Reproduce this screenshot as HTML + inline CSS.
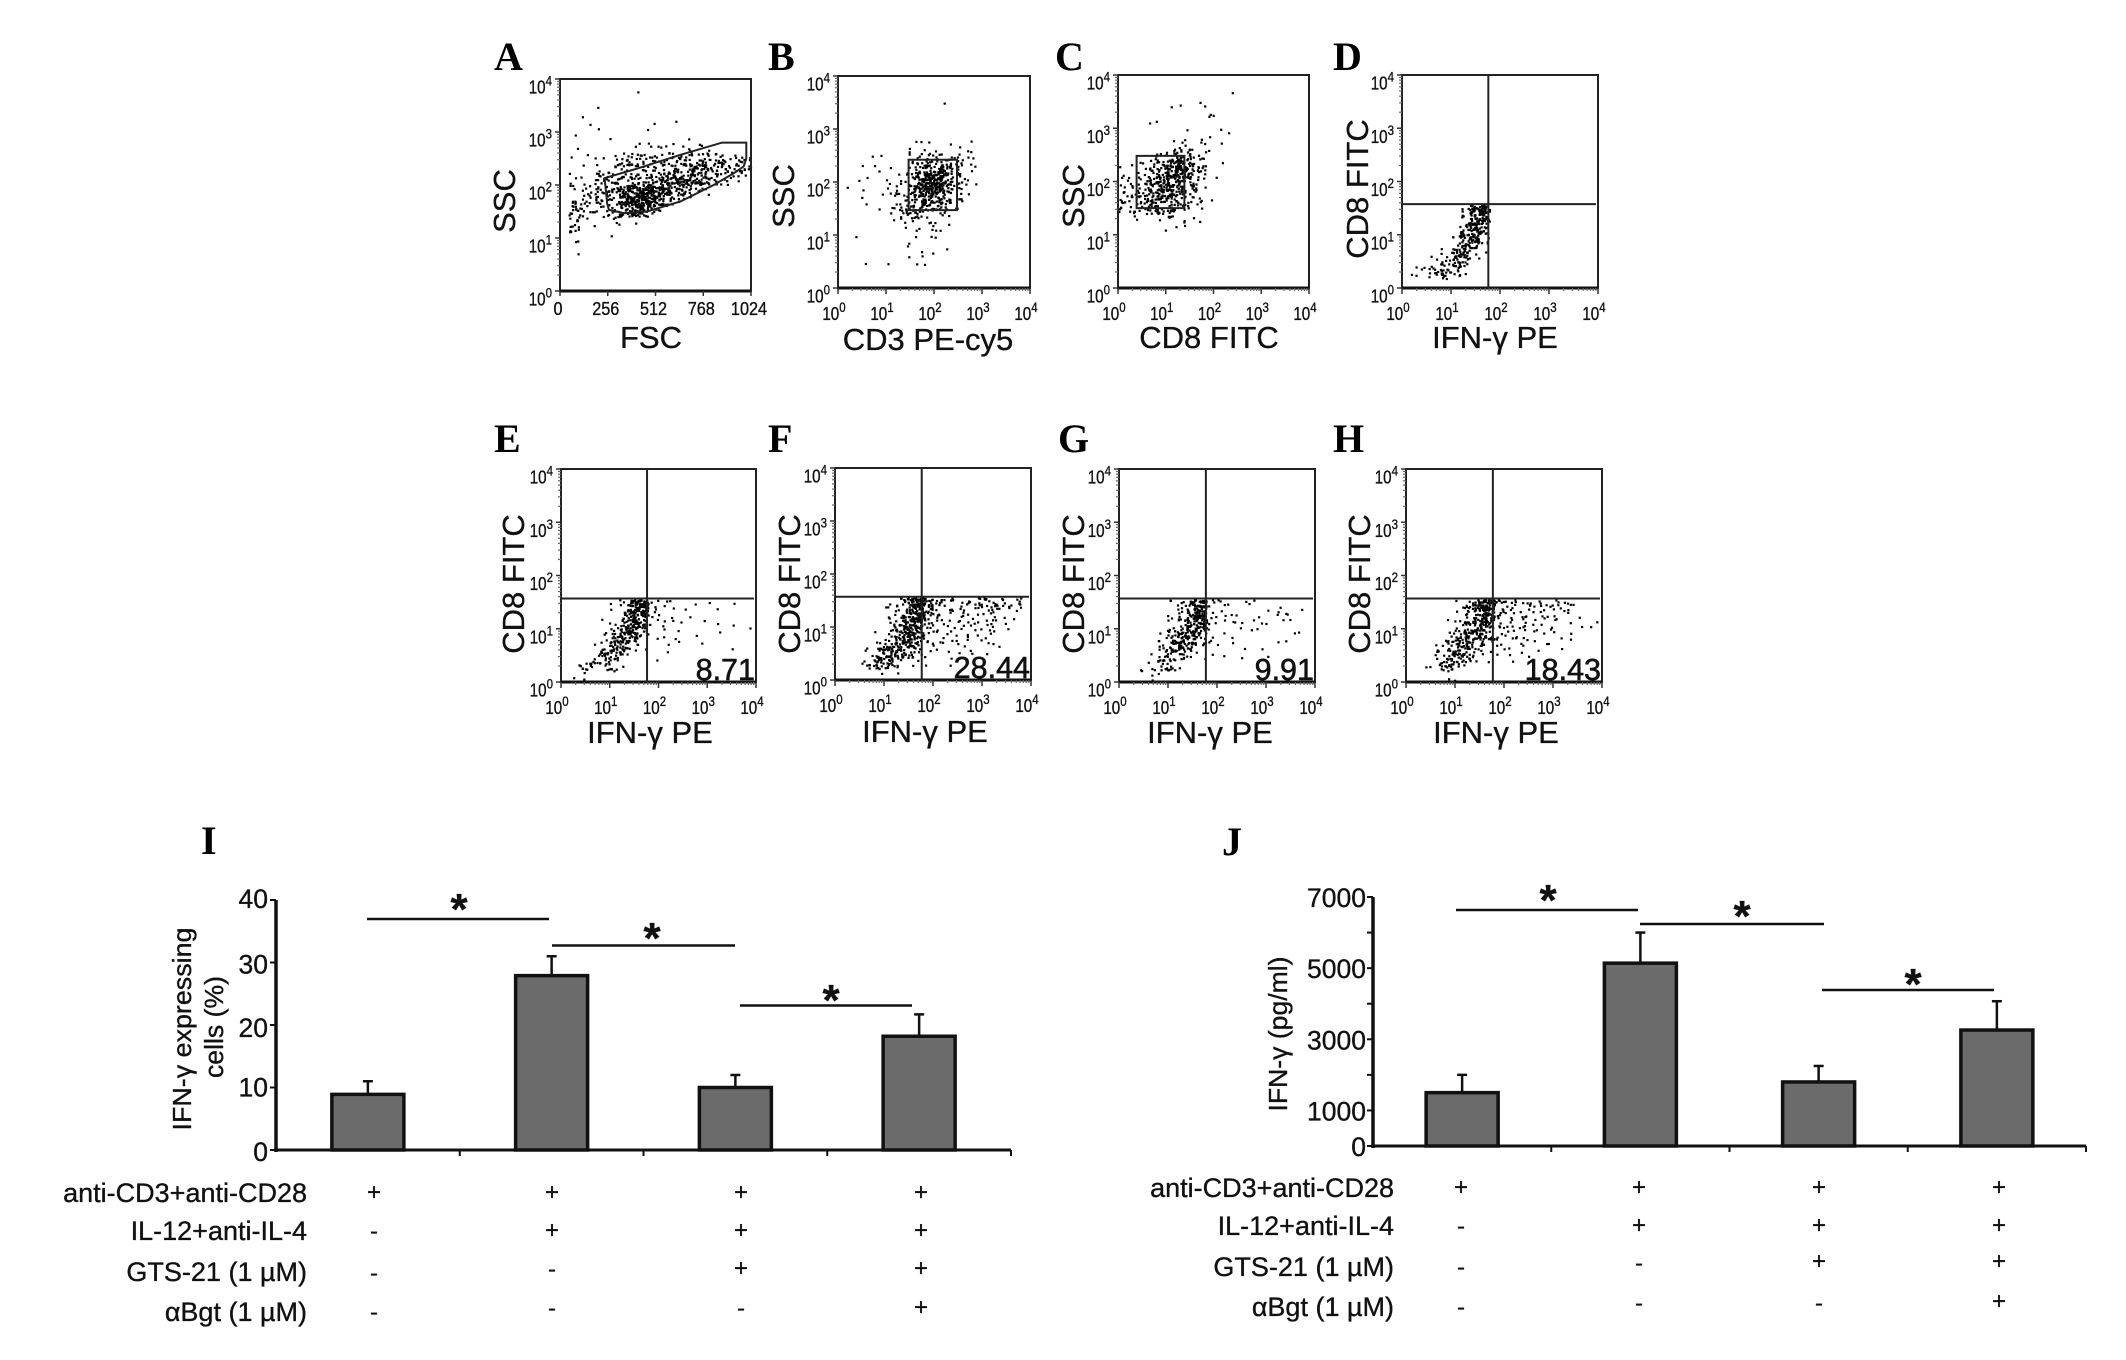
<!DOCTYPE html>
<html lang="en">
<head>
<meta charset="utf-8">
<title>Flow cytometry panels and IFN-γ bar charts</title>
<style>
  html, body { margin: 0; padding: 0; background: #fff; }
  #figure { display: block; width: 2126px; height: 1360px; background: #fff; }
  text { font-family: "Liberation Sans", sans-serif; fill: #111; stroke: #111; stroke-width: .35px; }
  .letter { font-family: "Liberation Serif", serif; font-weight: bold; font-size: 40px; fill: #000; stroke: none; }
  .percent { stroke-width: .6px; }
</style>
</head>
<body>
<svg id="figure" xmlns="http://www.w3.org/2000/svg" width="2126" height="1360" viewBox="0 0 2126 1360"></svg>
<script>
/* ---------- Scatter data: estimated event counts per 0.2-decade bin, read by eye.
   Rows run from the highest y bin to the lowest; columns run left to right.
   Dots are jittered inside their bin purely for rendering. ---------- */
const logTickExponents = [0, 1, 2, 3, 4];
const fscTickLabels = [0, 256, 512, 768, 1024];

const topBinA = 3.6;
const countsA = [
  [0,0,0,0,0,0,0,0,1],
  [0,0,0,0,1],
  [0,0,1],
  [0,0,0,1,1,0,0,0,0,2,0,0,1],
  [0,1,0,0,0,1,0,0,0,0,0,0,0,1],
  [0,1,0,0,0,0,0,1,1,2,2,2,1,2,2,1],
  [0,1,1,1,1,2,3,6,7,6,5,6,6,7,7,7,8,5,4,5],
  [0,1,1,2,2,4,7,8,6,6,8,8,12,16,16,14,10,8,8,8],
  [0,2,2,3,7,8,7,8,10,10,14,18,22,24,18,12,8,4,3,1],
  [0,3,3,6,8,8,16,26,30,34,30,22,16,8,4,2],
  [0,6,6,8,4,7,22,36,40,38,22,10,3,1],
  [0,10,5,4,3,6,14,20,22,12,3],
  [0,8,2,1,1,3,2,1],
  [0,5,0,0,0,1],
  [0,2],
  [0,1]
];
const gateAX = [239,253,262,343,467,646,824,931,985,999,999,869,646,414];
const gateAY = [2.13,1.65,1.53,1.47,1.50,1.69,2.00,2.22,2.35,2.50,2.80,2.80,2.57,2.31];

const topBinB = 3.4;
const countsB = [
  [0,0,0,0,0,0,0,0,0,0,0,1],
  [],[],[],
  [0,0,0,0,0,0,0,1,2,1,0,1,1,1],
  [0,0,0,1,1,0,0,2,3,5,5,4,4,3,1],
  [0,0,1,1,0,1,0,3,8,14,14,10,6,2,1],
  [0,0,1,1,1,1,2,6,18,32,34,14,5,2],
  [0,1,1,0,0,2,3,8,22,36,36,14,6,1,1],
  [0,0,1,0,1,2,4,10,18,24,18,10,5,1],
  [0,0,1,0,1,3,6,12,14,10,8,5,2],
  [0,0,0,0,0,1,2,5,4,3,2,1],
  [0,0,0,0,0,0,0,1,2,2,2,1],
  [0,1,0,0,0,0,0,1,1,1,1],
  [0,0,0,0,0,0,0,1,1,1,0,1],
  [0,0,1,0,0,1,0,1,2,1]
];
const gateBX = [1.47,2.48,2.48,1.47];
const gateBY = [2.42,2.42,1.47,1.47];

const topBinC = 3.6;
const countsC = [
  [0,0,0,0,0,0,0,0,0,0,0,0,1],
  [0,0,0,0,0,0,1,0,1,1],
  [0,0,0,0,0,1,0,0,0,2,1],
  [0,0,0,1,1],
  [0,0,0,0,0,0,0,1,0,1,1,1],
  [0,0,0,0,0,1,2,2,2,1,1],
  [0,0,0,1,3,6,12,10,4,2],
  [1,1,3,6,12,20,32,14,5,2,1],
  [2,2,4,8,16,26,34,14,5,2,1],
  [3,3,6,12,22,24,18,10,4,1],
  [6,6,8,16,22,18,10,6,3,1],
  [5,5,6,10,12,12,6,4,2],
  [0,1,1,2,3,4,2,1,1],
  [0,0,0,0,0,1,1,1]
];
const gateCX = [0.39,1.39,1.39,0.39];
const gateCY = [2.48,2.48,1.50,1.50];

const topBinQuadrant = 1.4;
const countsD = [
  [0,0,0,0,0,0,4,24,30],
  [0,0,0,0,0,0,5,28,22],
  [0,0,0,0,0,1,14,28,12],
  [0,0,0,0,0,4,20,22,4],
  [0,0,0,0,2,12,20,8,1],
  [0,0,0,2,8,18,10,1],
  [0,3,5,8,12,8,1],
  [0,0,0,0,2]
];
const countsE = [
  [0,0,0,0,0,1,4,24,32,3,2,1,0,1,0,1,0,1],
  [0,0,0,0,0,1,8,30,28,3,1,2,1,1,0,0,1],
  [0,0,0,0,1,3,14,28,18,2,2,1,1,0,1,0,1,1,0,1],
  [0,0,0,0,2,8,20,22,6,1,2,1,1,1,0,0,1],
  [0,0,0,1,4,16,18,6,1,0,0,1,1,0,1,0,0,1],
  [0,0,0,2,14,14,6,1,0,1,1],
  [0,1,6,8,8,4,1],
  [0,1,2]
];
const countsF = [
  [0,0,0,0,0,1,4,18,40,18,7,4,2,4,6,5,4,4,4,1],
  [0,0,0,0,0,2,5,14,34,14,5,4,3,4,4,5,5,3,2],
  [0,0,0,0,0,3,8,26,34,8,4,3,3,3,3,3,4,2,1],
  [0,0,0,0,1,4,12,30,22,5,3,2,3,2,3,2,1,1],
  [0,0,0,0,3,8,18,22,12,4,2,3,2,2,1,2,2],
  [0,0,0,3,12,24,18,10,5,2,1,2,1,1,1,1],
  [0,0,1,6,16,14,4,1,1,1,0,1],
  [0,0,0,0,1,0,1]
];
const countsG = [
  [0,0,0,0,0,2,4,14,30,3,3,1,1,2],
  [0,0,0,0,0,1,5,22,34,3,2,1,1,0,1,1,3,2,1],
  [0,0,0,0,0,3,10,26,24,3,1,2,2,1,1,1,1,1],
  [0,0,0,0,2,8,20,28,10,2,1,1,0,1,1,0,0,1,1],
  [0,0,0,0,6,12,20,14,3,2,1,1,1,0,1,0,1,1],
  [0,0,0,1,10,14,8,3,1,1,1,0,1,0,0,1],
  [0,0,2,3,10,7,1],
  [0,0,0,2,1]
];
const countsH = [
  [0,0,0,0,0,1,6,20,30,8,4,4,4,4,3,3,3,1],
  [0,0,0,0,0,2,8,20,34,7,4,3,3,3,2,3,3,1],
  [0,0,0,0,1,4,12,22,24,5,4,3,3,2,2,2,1,1,1,1],
  [0,0,0,0,3,10,20,22,10,3,3,3,2,2,2,2,1],
  [0,0,0,2,8,14,18,10,3,3,2,2,1,1,2,1,1],
  [0,0,0,6,14,16,8,2,1,1,1,1,1,1],
  [0,0,2,7,14,6,2,1,1,0,1],
  [0,0,0,0,1,1]
];
const quadrantGateX = [1.762, 1.765, 1.77, 1.773, 1.773];
const quadrantGateY = [1.574, 1.567, 1.57, 1.567, 1.567];
const percentLabels = ["", "8.71", "28.44", "9.91", "18.43"];

/* ---------- Bar chart data ---------- */
const treatmentLabels = ["anti-CD3+anti-CD28", "IL-12+anti-IL-4", "GTS-21 (1 µM)", "αBgt (1 µM)"];
const treatmentSigns = [
  ["+","+","+","+"],
  ["-","+","+","+"],
  ["-","-","+","+"],
  ["-","-","-","+"]
];
const expressingValues = [8.9, 27.9, 10, 18.2];
const expressingErrors = [2.1, 3.1, 2, 3.5];
const expressingTicks = [0, 10, 20, 30, 40];
const expressingTickText = ["0", "10", "20", "30", "40"];
const pgValues = [1500, 5140, 1800, 3260];
const pgErrors = [500, 860, 450, 810];
const pgTicks = [0, 1000, 2000, 3000, 4000, 5000, 6000, 7000];
const pgTickText = ["0", "1000", "", "3000", "", "5000", "", "7000"];

/* ---------- Drawing helpers ---------- */
const NS = "http://www.w3.org/2000/svg";
const fig = document.getElementById("figure");

function add(parent, tag, attrs) {
  const el = document.createElementNS(NS, tag);
  for (const k in attrs) el.setAttribute(k, attrs[k]);
  parent.appendChild(el);
  return el;
}
function addText(parent, str, attrs) {
  const el = add(parent, "text", attrs);
  el.textContent = str;
  return el;
}
function jitter(seed) {
  const s = Math.sin(seed * 12.9898) * 43758.5453;
  return s - Math.floor(s);
}

/* ---------- Flow panels ---------- */
const panels = [
  {id:"a", letter:"A", lx:494, ly:70,  left:560,  right:751,  top:79,  bottom:291, xMax:1024, bin:51.2, counts:countsA, topBin:topBinA, xTitle:"FSC", yTitle:"SSC", xtx:651, xty:348, ytx:515, yty:201, gateX:gateAX, gateY:gateAY},
  {id:"b", letter:"B", lx:768, ly:70,  left:838,  right:1030, top:76,  bottom:288, xMax:4, bin:.2, counts:countsB, topBin:topBinB, xTitle:"CD3 PE-cy5", yTitle:"SSC", xtx:928, xty:350, ytx:794, yty:196, gateX:gateBX, gateY:gateBY},
  {id:"c", letter:"C", lx:1055, ly:70, left:1118, right:1309, top:75,  bottom:288, xMax:4, bin:.2, counts:countsC, topBin:topBinC, xTitle:"CD8 FITC", yTitle:"SSC", xtx:1209, xty:348, ytx:1084, yty:196, gateX:gateCX, gateY:gateCY},
  {id:"d", letter:"D", lx:1333, ly:70, left:1402, right:1598, top:75,  bottom:288, xMax:4, bin:.2, counts:countsD, topBin:topBinQuadrant, xTitle:"IFN-γ PE", yTitle:"CD8 FITC", xtx:1495, xty:348, ytx:1368, yty:189, quad:0},
  {id:"e", letter:"E", lx:494, ly:452, left:561,  right:756,  top:469, bottom:682, xMax:4, bin:.2, counts:countsE, topBin:topBinQuadrant, xTitle:"IFN-γ PE", yTitle:"CD8 FITC", xtx:650, xty:743, ytx:524, yty:584, quad:1},
  {id:"f", letter:"F", lx:768, ly:452, left:835,  right:1031, top:468, bottom:680, xMax:4, bin:.2, counts:countsF, topBin:topBinQuadrant, xTitle:"IFN-γ PE", yTitle:"CD8 FITC", xtx:925, xty:742, ytx:800, yty:584, quad:2},
  {id:"g", letter:"G", lx:1058, ly:452, left:1119, right:1315, top:469, bottom:682, xMax:4, bin:.2, counts:countsG, topBin:topBinQuadrant, xTitle:"IFN-γ PE", yTitle:"CD8 FITC", xtx:1210, xty:743, ytx:1084, yty:584, quad:3},
  {id:"h", letter:"H", lx:1333, ly:452, left:1406, right:1602, top:469, bottom:682, xMax:4, bin:.2, counts:countsH, topBin:topBinQuadrant, xTitle:"IFN-γ PE", yTitle:"CD8 FITC", xtx:1496, xty:743, ytx:1370, yty:584, quad:4}
];

panels.forEach(function (p, panelIndex) {
  const g = add(fig, "g", {});
  
  

  const sx = function (v) { return p.left + (v / p.xMax) * (p.right - p.left); };
  const sy = function (v) { return p.bottom - (v / 4) * (p.bottom - p.top); };
  const binH = 0.2;

  const letter = addText(g, p.letter, {x: p.lx, y: p.ly, "class": "letter"});
  
  

  /* events */
  const dots = add(g, "g", {fill: "#000"});
  
  
  const ceil = p.quad !== undefined ? quadrantGateY[p.quad] - 0.03 : 4;
  p.counts.forEach(function (row, r) {
    const yBase = p.topBin - r * binH;
    row.forEach(function (n, c) {
      for (let k = 0; k < n; k++) {
        const seed = panelIndex * 31 + r * 101.3 + c * 17.7 + k * 1.37 + 1;
        const u = jitter(seed);
        const v = jitter(seed + 53.1);
        const yTop = Math.min(yBase + binH, ceil);
        const dot = add(dots, "rect", {
          x: (sx(c * p.bin + u * p.bin) - 1.1).toFixed(1),
          y: (sy(yBase + v * (yTop - yBase)) - 1.1).toFixed(1),
          width: 2.2, height: 2.2
        });
        
        
      }
    });
  });

  /* frame */
  const frame = add(g, "rect", {x: p.left, y: p.top, width: p.right - p.left, height: p.bottom - p.top, fill: "none", stroke: "#222", "stroke-width": 2});
  
  
  const base = add(g, "line", {x1: p.left, x2: p.right, y1: p.bottom, y2: p.bottom, stroke: "#111", "stroke-width": 3});
  
  

  /* y ticks */
  logTickExponents.forEach(function (e) {
    const major = add(g, "line", {x1: p.left - 5, x2: p.left, y1: sy(e), y2: sy(e), stroke: "#333", "stroke-width": 1.5});
    
    
    if (e < 4) {
      for (let m = 2; m < 10; m++) {
        const yy = sy(e + Math.log10(m));
        const minor = add(g, "line", {x1: p.left - 3, x2: p.left, y1: yy, y2: yy, stroke: "#666", "stroke-width": 1.2});
        
        
      }
    }
    const lab = addText(g, "10", {transform: "translate(" + (p.left - 8) + "," + (sy(e) + 14.5) + ") scale(.82,1)", "text-anchor": "end", "font-size": 18.5});
    
    
    const sup = add(lab, "tspan", {dy: -8, "font-size": 14});
    sup.textContent = String(e);
  });

  /* x ticks */
  if (p.xMax === 1024) {
    fscTickLabels.forEach(function (t) {
      const tick = add(g, "line", {x1: sx(t), x2: sx(t), y1: p.bottom, y2: p.bottom + 5, stroke: "#333", "stroke-width": 1.5});
      
      
      const lab = addText(g, String(t), {transform: "translate(" + (sx(t) - 2) + "," + (p.bottom + 24) + ") scale(.88,1)", "text-anchor": "middle", "font-size": 18.5});
      
      
    });
  } else {
    logTickExponents.forEach(function (e) {
      const tick = add(g, "line", {x1: sx(e), x2: sx(e), y1: p.bottom, y2: p.bottom + 6, stroke: "#333", "stroke-width": 1.5});
      
      
      if (e < 4) {
        for (let m = 2; m < 10; m++) {
          const xx = sx(e + Math.log10(m));
          const minor = add(g, "line", {x1: xx, x2: xx, y1: p.bottom, y2: p.bottom + 3, stroke: "#666", "stroke-width": 1.2});
          
          
        }
      }
      const lab = addText(g, "10", {transform: "translate(" + (sx(e) - 4) + "," + (p.bottom + 32) + ") scale(.82,1)", "text-anchor": "middle", "font-size": 18.5});
      
      
      const sup = add(lab, "tspan", {dy: -8, "font-size": 14});
      sup.textContent = String(e);
    });
  }

  /* gates */
  if (p.gateX) {
    const pts = p.gateX.map(function (x, i) { return sx(x).toFixed(1) + "," + sy(p.gateY[i]).toFixed(1); }).join(" ");
    const gate = add(g, "polygon", {points: pts, fill: "none", stroke: "#222", "stroke-width": 2});
    
    
  }
  if (p.quad !== undefined) {
    const qx = sx(quadrantGateX[p.quad]);
    const qy = sy(quadrantGateY[p.quad]);
    const qv = add(g, "line", {x1: qx, x2: qx, y1: p.top, y2: p.bottom, stroke: "#222", "stroke-width": 2});
    
    
    const qh = add(g, "line", {x1: p.left, x2: p.right - 2, y1: qy, y2: qy, stroke: "#222", "stroke-width": 2});
    
    
    if (percentLabels[p.quad]) {
      const pct = addText(g, percentLabels[p.quad], {x: p.right - 1, y: p.bottom - 2, "text-anchor": "end", "font-size": 30.5, "class": "percent"});
      
      
    }
  }

  /* axis titles */
  const xt = addText(g, p.xTitle, {x: p.xtx, y: p.xty, "text-anchor": "middle", "font-size": 31});
  
  
  const yt = addText(g, p.yTitle, {transform: "translate(" + p.ytx + "," + p.yty + ") rotate(-90)", "text-anchor": "middle", "font-size": 31});
  
  
});

/* ---------- Bar charts ---------- */
const barCharts = [
  {id:"i", letter:"I", lx:201, ly:854, x0:276, x1:1011, y0:1150, yTop:900, yMax:40, values:expressingValues, errors:expressingErrors, ticks:expressingTicks, tickText:expressingTickText, labelRight:268, labelDy:[11,9,12,11,8],
   sigX:[[367,549],[552,735],[740,912]], sigY:[919,945.5,1005.5], starX:[459,652,831], starY:[901,930,992],
   rowLabelRight:307, signX:[374,552,741,921],
   signY:[[1192,1192,1192,1192],[1231,1230,1230,1230],[1273,1269,1268,1268],[1312,1308,1308,1307]], rowY:[1193,1231,1272,1312]},
  {id:"j", letter:"J", lx:1222, ly:855, x0:1373, x1:2086, y0:1146, yTop:897, yMax:7000, values:pgValues, errors:pgErrors, ticks:pgTicks, tickText:pgTickText, labelRight:1366, labelDy:[10,10,10,10,10,10,10,10],
   sigX:[[1456,1638],[1640,1824],[1822,1994]], sigY:[910,924,990], starX:[1548,1742,1913], starY:[892,908,976],
   rowLabelRight:1394, signX:[1461,1639,1819,1999],
   signY:[[1187,1187,1187,1187],[1226,1225,1225,1225],[1267,1263,1261,1261],[1307,1303,1303,1301]], rowY:[1188,1226,1267,1307]}
];

barCharts.forEach(function (c) {
  const g = add(fig, "g", {});
  
  

  const sy = function (v) { return c.y0 - (v / c.yMax) * (c.y0 - c.yTop); };
  const band = (c.x1 - c.x0) / c.values.length;
  const cx = function (i) { return c.x0 + band * (i + 0.5); };

  const letter = addText(g, c.letter, {x: c.lx, y: c.ly, "class": "letter"});
  
  

  c.values.forEach(function (v, i) {
    const errLine = add(g, "line", {x1: cx(i), x2: cx(i), y1: sy(v), y2: sy(v + c.errors[i]), stroke: "#111", "stroke-width": 2.5});
    
    
    const errCap = add(g, "line", {x1: cx(i) - 5, x2: cx(i) + 5, y1: sy(v + c.errors[i]), y2: sy(v + c.errors[i]), stroke: "#111", "stroke-width": 2.5});
    
    
    const bar = add(g, "rect", {x: cx(i) - 36, y: sy(v), width: 72, height: c.y0 - sy(v), fill: "#6b6b6b", stroke: "#111", "stroke-width": 3.5});
    
    
  });

  const yAxis = add(g, "line", {x1: c.x0, x2: c.x0, y1: c.yTop, y2: c.y0 + 2, stroke: "#111", "stroke-width": 3.5});
  
  
  const xAxis = add(g, "line", {x1: c.x0, x2: c.x1, y1: c.y0, y2: c.y0, stroke: "#111", "stroke-width": 3});
  
  

  c.ticks.forEach(function (t, i) {
    const tick = add(g, "line", {x1: c.x0 - 6, x2: c.x0, y1: sy(t), y2: sy(t), stroke: "#111", "stroke-width": 2});
    
    
    if (c.tickText[i]) {
      const lab = addText(g, c.tickText[i], {x: c.labelRight, y: sy(t) + c.labelDy[i], "text-anchor": "end", "font-size": 26.5});
      
      
    }
  });
  for (let i = 1; i <= c.values.length; i++) {
    const xx = c.x0 + band * i;
    const tick = add(g, "line", {x1: xx, x2: xx, y1: c.y0, y2: c.y0 + 6, stroke: "#111", "stroke-width": 2});
    
    
  }

  c.sigX.forEach(function (pair, i) {
    const line = add(g, "line", {x1: pair[0], x2: pair[1], y1: c.sigY[i], y2: c.sigY[i], stroke: "#111", "stroke-width": 2.5});
    
    
    const star = addText(g, "*", {x: c.starX[i], y: c.starY[i] + 23, "text-anchor": "middle", "font-size": 44, "font-weight": "bold"});
    
    
  });

  treatmentLabels.forEach(function (label, r) {
    const lab = addText(g, label, {x: c.rowLabelRight, y: c.rowY[r] + 9, "text-anchor": "end", "font-size": 27});
    
    
    treatmentSigns[r].forEach(function (s, col) {
      const sign = addText(g, s, {x: c.signX[col], y: c.signY[r][col] + 8, "text-anchor": "middle", "font-size": 24});
      
      
    });
  });
});

const titleI1 = addText(fig, "IFN-γ expressing", {transform: "translate(191,1029) rotate(-90)", "text-anchor": "middle", "font-size": 26, textLength: 203, lengthAdjust: "spacingAndGlyphs"});


const titleI2 = addText(fig, "cells (%)", {transform: "translate(223,1027) rotate(-90)", "text-anchor": "middle", "font-size": 25.5, textLength: 102, lengthAdjust: "spacingAndGlyphs"});


const titleJ = addText(fig, "IFN-γ (pg/ml)", {transform: "translate(1287,1034) rotate(-90)", "text-anchor": "middle", "font-size": 26, textLength: 155, lengthAdjust: "spacingAndGlyphs"});


</script>
</body>
</html>
